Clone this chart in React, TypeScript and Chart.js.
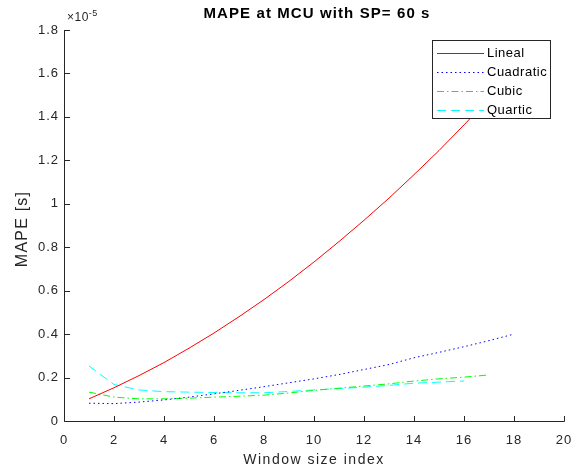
import React, { useEffect, useRef } from "react";
import { Chart, registerables } from "chart.js";

Chart.register(...registerables);

// Values are in units of 1e-5 s (the axis shows a ×10^-5 multiplier)
const windowIndex = [1, 2, 3, 4, 5, 6, 7, 8, 9, 10, 11, 12, 13, 14, 15, 16, 17, 18];
const lineal = [0.102, 0.153, 0.209, 0.269, 0.335, 0.405, 0.48, 0.559, 0.643, 0.732, 0.826, 0.924, 1.026, 1.134, 1.245, 1.363, 1.484, 1.611];
const cuadratic = [0.082, 0.08, 0.087, 0.097, 0.11, 0.125, 0.141, 0.158, 0.176, 0.194, 0.214, 0.237, 0.26, 0.291, 0.316, 0.342, 0.37, 0.4];
const cubic = [0.133, 0.11, 0.102, 0.102, 0.105, 0.11, 0.114, 0.119, 0.129, 0.141, 0.151, 0.161, 0.171, 0.184, 0.194, 0.202, 0.212];
const quartic = [0.253, 0.168, 0.143, 0.135, 0.133, 0.131, 0.13, 0.13, 0.136, 0.143, 0.149, 0.156, 0.164, 0.174, 0.179, 0.184];
const seriesNames = ["Lineal", "Cuadratic", "Cubic", "Quartic"];
const xTicks = [0, 2, 4, 6, 8, 10, 12, 14, 16, 18, 20];
const yTicks = [0, 0.2, 0.4, 0.6, 0.8, 1, 1.2, 1.4, 1.6, 1.8];
const titleText = "MAPE at MCU with SP= 60 s";
const xLabel = "Window size index";
const yLabel = "MAPE [s]";
const exponentBase = "\u00d710";
const exponentPower = "-5";

const FONT = "'Liberation Sans', Arial, Helvetica, sans-serif";
const AXIS = "#262626";
const colors = ["#ff0000", "#0000ff", "#00ff00", "#00ffff"];
const dashes: number[][] = [[], [1.5, 3], [7, 3, 1.5, 3], [9, 5]];

function pts(values: number[]) {
  return values.map((v, i) => ({ x: windowIndex[i], y: v }));
}

const fmtTick = (v: any) => String(Number(Number(v).toFixed(1)));

const matlabPlugin = {
  id: "matlabDecor",
  beforeDraw(chart: any) {
    (chart.ctx as any).letterSpacing = "1px";
  },
  afterDraw(chart: any) {
    const ctx = chart.ctx as CanvasRenderingContext2D & { letterSpacing: string };
    const { left, right, top, bottom } = chart.chartArea;
    const xs = chart.scales.x;
    const ys = chart.scales.y;
    ctx.save();
    // axes
    ctx.strokeStyle = AXIS;
    ctx.lineWidth = 1;
    ctx.setLineDash([]);
    ctx.beginPath();
    ctx.moveTo(left + 0.5, top);
    ctx.lineTo(left + 0.5, bottom + 0.5);
    ctx.lineTo(right + 0.5, bottom + 0.5);
    ctx.stroke();
    // ticks (inward)
    ctx.beginPath();
    for (const t of xTicks) {
      const px = Math.round(xs.getPixelForValue(t)) + 0.5;
      ctx.moveTo(px, bottom + 0.5);
      ctx.lineTo(px, bottom - 5);
    }
    for (const t of yTicks) {
      const py = Math.round(ys.getPixelForValue(t)) + 0.5;
      ctx.moveTo(left + 0.5, py);
      ctx.lineTo(left + 6, py);
    }
    ctx.stroke();

    // title
    ctx.fillStyle = "#000000";
    ctx.letterSpacing = "1.1px";
    ctx.font = `bold 15px ${FONT}`;
    ctx.textAlign = "center";
    ctx.textBaseline = "alphabetic";
    ctx.fillText(titleText, 317, 18);

    // exponent
    ctx.fillStyle = AXIS;
    ctx.textAlign = "left";
    ctx.letterSpacing = "0.5px";
    ctx.font = `12px ${FONT}`;
    ctx.fillText(exponentBase, left + 3, 21);
    const w = ctx.measureText(exponentBase).width;
    ctx.font = `9px ${FONT}`;
    ctx.fillText(exponentPower, left + 3 + w, 16);

    // axis labels
    ctx.letterSpacing = "1.5px";
    ctx.font = `14px ${FONT}`;
    ctx.textAlign = "center";
    ctx.textBaseline = "alphabetic";
    ctx.fillText(xLabel, 314, 464);
    ctx.save();
    ctx.translate(27, 229);
    ctx.rotate(-Math.PI / 2);
    ctx.letterSpacing = "1.2px";
    ctx.font = `16px ${FONT}`;
    ctx.fillText(yLabel, 0, 0);
    ctx.restore();

    // legend
    const lx = 432.5, ly = 40.5, lw = 118, lh = 78;
    ctx.fillStyle = "#ffffff";
    ctx.fillRect(lx, ly, lw, lh);
    ctx.strokeStyle = AXIS;
    ctx.lineWidth = 1;
    ctx.strokeRect(lx, ly, lw, lh);
    ctx.letterSpacing = "0.5px";
    ctx.font = `13px ${FONT}`;
    ctx.textAlign = "left";
    ctx.textBaseline = "middle";
    seriesNames.forEach((name, i) => {
      const ry = Math.round(53 + i * 19) + 0.5;
      ctx.strokeStyle = colors[i];
      ctx.setLineDash(dashes[i]);
      ctx.beginPath();
      ctx.moveTo(437, ry);
      ctx.lineTo(484, ry);
      ctx.stroke();
      ctx.setLineDash([]);
      ctx.fillStyle = "#000000";
      ctx.fillText(name, 487, ry);
    });
    ctx.restore();
    ctx.letterSpacing = "1px";
  },
};

export default function App() {
  const ref = useRef<HTMLCanvasElement>(null);
  useEffect(() => {
    const canvas = ref.current!;
    const series = [lineal, cuadratic, cubic, quartic];
    const chart = new Chart(canvas, {
      type: "line",
      data: {
        datasets: series.map((s, i) => ({
          label: seriesNames[i],
          data: pts(s),
          borderColor: colors[i],
          backgroundColor: colors[i],
          borderWidth: 1,
          borderDash: dashes[i],
          pointRadius: 0,
          tension: 0,
          fill: false,
        })),
      },
      options: {
        responsive: false,
        animation: false,
        devicePixelRatio: 1,
        layout: { padding: { top: 30, right: 16, left: 0, bottom: 0 } },
        plugins: {
          legend: { display: false },
          title: { display: false },
          tooltip: { enabled: false },
        },
        scales: {
          x: {
            type: "linear",
            min: 0,
            max: 20,
            ticks: { stepSize: 2, color: AXIS, font: { family: FONT, size: 13 }, padding: 12, maxRotation: 0, autoSkip: false, callback: fmtTick },
            grid: { display: false, drawTicks: false },
            border: { display: false },
            afterFit: (s: any) => { s.height = 51; s.paddingLeft = 0; s.paddingRight = 0; },
          },
          y: {
            type: "linear",
            min: 0,
            max: 1.8,
            ticks: { stepSize: 0.2, color: AXIS, font: { family: FONT, size: 13 }, padding: 5, callback: fmtTick },
            grid: { display: false, drawTicks: false },
            border: { display: false },
            afterFit: (s: any) => { s.width = 64; s.paddingTop = 0; s.paddingBottom = 0; },
          },
        },
      },
      plugins: [matlabPlugin],
    } as any);
    return () => chart.destroy();
  }, []);
  return (
    <div style={{ position: "fixed", left: 0, top: 0, width: 580, height: 472, background: "#fff" }}>
      <canvas ref={ref} width={580} height={472} style={{ width: 580, height: 472, display: "block" }} />
    </div>
  );
}
